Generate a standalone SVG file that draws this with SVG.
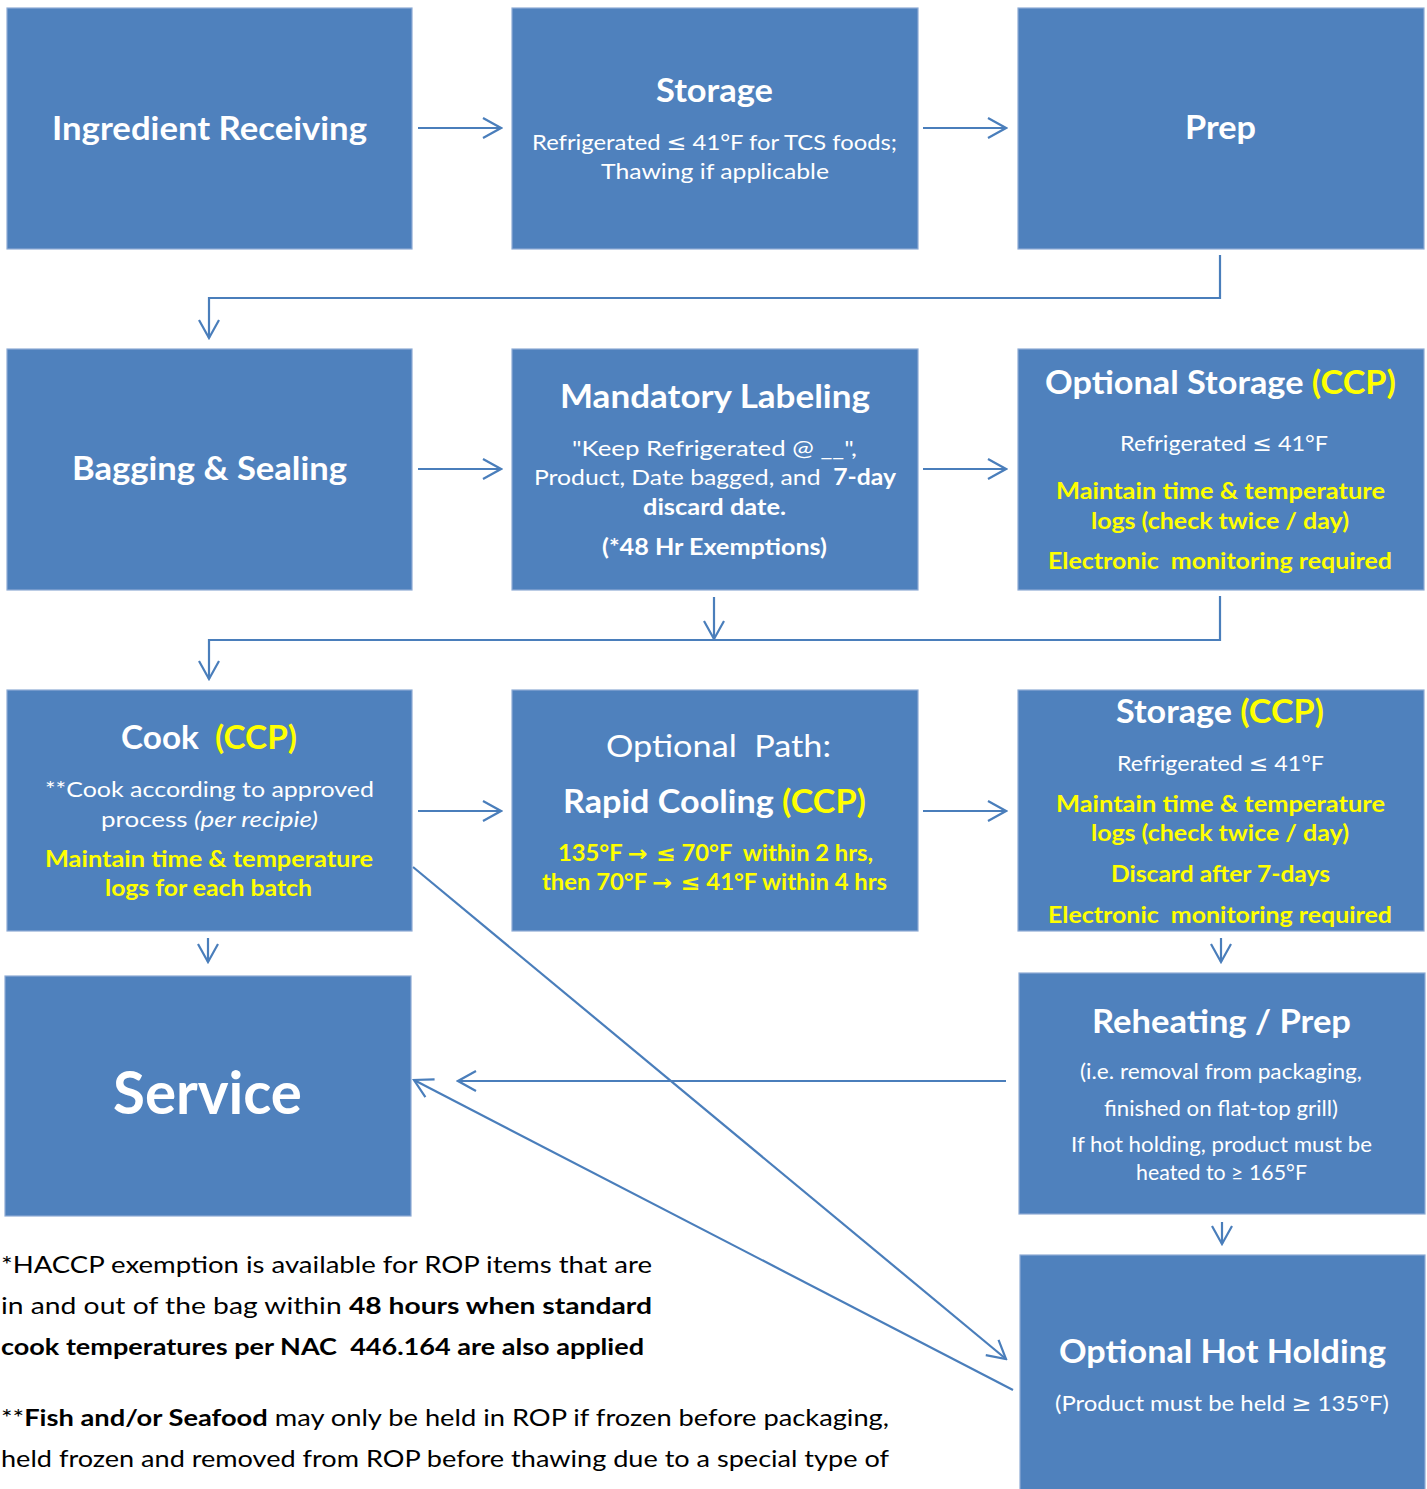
<svg xmlns="http://www.w3.org/2000/svg" width="1427" height="1489" viewBox="0 0 1427 1489">
<defs>
<style>
.box{fill:#4F81BD;stroke:#8eabd4;stroke-width:1.2}
.t{font-family:Lato,"Open Sans","Liberation Sans",sans-serif;text-anchor:middle;fill:#fff;white-space:pre}
.h{font-size:32px;font-weight:bold}
.b{font-size:22px}
.y{font-size:22px;font-weight:bold;fill:#FFFF00}
.yc{fill:#FFFF00}
.s{font-family:"DejaVu Sans",sans-serif}
.c{fill:none;stroke:#4A7EBB;stroke-width:2.2}
.n{font-family:Lato,"Open Sans","Liberation Sans",sans-serif;font-size:23px;fill:#000;white-space:pre}
</style>
<marker id="ah" viewBox="0 0 22 24" refX="20" refY="12" markerWidth="22" markerHeight="24" markerUnits="userSpaceOnUse" orient="auto">
<path d="M2,2 L20,12 L2,22" fill="none" stroke="#4A7EBB" stroke-width="2.2"/>
</marker>
</defs>
<rect width="1427" height="1489" fill="#fff"/>

<g id="connectors">
<line class="c" x1="418" y1="128" x2="501" y2="128" marker-end="url(#ah)"/>
<line class="c" x1="923" y1="128" x2="1006" y2="128" marker-end="url(#ah)"/>
<polyline class="c" points="1220,255 1220,298 209,298 209,338" marker-end="url(#ah)"/>
<line class="c" x1="418" y1="469" x2="501" y2="469" marker-end="url(#ah)"/>
<line class="c" x1="923" y1="469" x2="1006" y2="469" marker-end="url(#ah)"/>
<line class="c" x1="714" y1="597" x2="714" y2="639" marker-end="url(#ah)"/>
<polyline class="c" points="1220,596 1220,640 209,640 209,679" marker-end="url(#ah)"/>
<line class="c" x1="418" y1="811" x2="501" y2="811" marker-end="url(#ah)"/>
<line class="c" x1="923" y1="811" x2="1006" y2="811" marker-end="url(#ah)"/>
<line class="c" x1="208" y1="938" x2="208" y2="962" marker-end="url(#ah)"/>
<line class="c" x1="1221" y1="938" x2="1221" y2="962" marker-end="url(#ah)"/>
<line class="c" x1="1006" y1="1081" x2="458" y2="1081" marker-end="url(#ah)"/>
<line class="c" x1="1222" y1="1222" x2="1222" y2="1244" marker-end="url(#ah)"/>
<line class="c" x1="413" y1="867" x2="1006" y2="1359" marker-end="url(#ah)"/>
<line class="c" x1="1013" y1="1390" x2="414" y2="1080" marker-end="url(#ah)"/>
</g>

<g id="ingredient-receiving">
<rect class="box" x="7" y="8" width="405" height="241"/>
<text class="t h" x="209.5" y="140" textLength="315" lengthAdjust="spacingAndGlyphs">Ingredient Receiving</text>
</g>

<g id="storage">
<rect class="box" x="512" y="8" width="406" height="241"/>
<text class="t h" x="714.5" y="102" textLength="117" lengthAdjust="spacingAndGlyphs">Storage</text>
<text class="t b" x="714.5" y="150" textLength="365" lengthAdjust="spacingAndGlyphs">Refrigerated <tspan class="s">≤</tspan> 41°F for TCS foods;</text>
<text class="t b" x="715" y="179" textLength="228" lengthAdjust="spacingAndGlyphs">Thawing if applicable</text>
</g>

<g id="prep">
<rect class="box" x="1018" y="8" width="406" height="241"/>
<text class="t h" x="1220.5" y="139" textLength="71" lengthAdjust="spacingAndGlyphs">Prep</text>
</g>

<g id="bagging-sealing">
<rect class="box" x="7" y="349" width="405" height="241"/>
<text class="t h" x="209.5" y="480" textLength="275" lengthAdjust="spacingAndGlyphs">Bagging &amp; Sealing</text>
</g>

<g id="mandatory-labeling">
<rect class="box" x="512" y="349" width="406" height="241"/>
<text class="t h" x="715" y="408" textLength="310" lengthAdjust="spacingAndGlyphs">Mandatory Labeling</text>
<text class="t b" x="714.5" y="456" textLength="285" lengthAdjust="spacingAndGlyphs">"Keep Refrigerated @ __",</text>
<text class="t b" x="715" y="485" textLength="362" lengthAdjust="spacingAndGlyphs">Product, Date bagged, and  <tspan font-weight="bold">7-day</tspan></text>
<text class="t b" x="714.5" y="515" font-weight="bold" textLength="143" lengthAdjust="spacingAndGlyphs">discard date.</text>
<text class="t b" x="714.5" y="555" font-weight="bold" textLength="225" lengthAdjust="spacingAndGlyphs">(*48 Hr Exemptions)</text>
</g>

<g id="optional-storage">
<rect class="box" x="1018" y="349" width="406" height="241"/>
<text class="t h" x="1220.5" y="394" textLength="351" lengthAdjust="spacingAndGlyphs">Optional Storage <tspan class="yc">(CCP)</tspan></text>
<text class="t b" x="1224" y="451" textLength="208" lengthAdjust="spacingAndGlyphs">Refrigerated <tspan class="s">≤</tspan> 41°F</text>
<text class="t y" x="1220.5" y="499" textLength="329" lengthAdjust="spacingAndGlyphs">Maintain time &amp; temperature</text>
<text class="t y" x="1220" y="529" textLength="258" lengthAdjust="spacingAndGlyphs">logs (check twice / day)</text>
<text class="t y" x="1220" y="569" textLength="344" lengthAdjust="spacingAndGlyphs">Electronic  monitoring required</text>
</g>

<g id="cook">
<rect class="box" x="7" y="690" width="405" height="241"/>
<text class="t h" x="209" y="749" textLength="176" lengthAdjust="spacingAndGlyphs">Cook  <tspan class="yc">(CCP)</tspan></text>
<text class="t b" x="209.5" y="797" textLength="329" lengthAdjust="spacingAndGlyphs">**Cook according to approved</text>
<text class="t b" x="209.5" y="827" textLength="217" lengthAdjust="spacingAndGlyphs">process <tspan font-style="italic">(per recipie)</tspan></text>
<text class="t y" x="209" y="867" textLength="328" lengthAdjust="spacingAndGlyphs">Maintain time &amp; temperature</text>
<text class="t y" x="208.5" y="896" textLength="207" lengthAdjust="spacingAndGlyphs">logs for each batch</text>
</g>

<g id="rapid-cooling">
<rect class="box" x="512" y="690" width="406" height="241"/>
<text class="t" x="718.5" y="757" font-size="31" textLength="225" lengthAdjust="spacingAndGlyphs">Optional  Path:</text>
<text class="t h" x="714.5" y="813" textLength="303" lengthAdjust="spacingAndGlyphs">Rapid Cooling <tspan class="yc">(CCP)</tspan></text>
<text class="t y" x="715.5" y="861" textLength="315" lengthAdjust="spacingAndGlyphs">135°F <tspan class="s">→ ≤</tspan> 70°F  within 2 hrs,</text>
<text class="t y" x="714.5" y="890" textLength="345" lengthAdjust="spacingAndGlyphs">then 70°F <tspan class="s">→ ≤</tspan> 41°F within 4 hrs</text>
</g>

<g id="storage-ccp">
<rect class="box" x="1018" y="690" width="406" height="241"/>
<text class="t h" x="1220" y="723" textLength="208" lengthAdjust="spacingAndGlyphs">Storage <tspan class="yc">(CCP)</tspan></text>
<text class="t b" x="1220.5" y="771" textLength="207" lengthAdjust="spacingAndGlyphs">Refrigerated <tspan class="s">≤</tspan> 41°F</text>
<text class="t y" x="1220.5" y="812" textLength="329" lengthAdjust="spacingAndGlyphs">Maintain time &amp; temperature</text>
<text class="t y" x="1220" y="841" textLength="258" lengthAdjust="spacingAndGlyphs">logs (check twice / day)</text>
<text class="t y" x="1220.5" y="882" textLength="219" lengthAdjust="spacingAndGlyphs">Discard after 7-days</text>
<text class="t y" x="1220" y="923" textLength="344" lengthAdjust="spacingAndGlyphs">Electronic  monitoring required</text>
</g>

<g id="service">
<rect class="box" x="5" y="976" width="406" height="240"/>
<text class="t" x="207.5" y="1114" font-size="60" font-weight="bold" textLength="189" lengthAdjust="spacingAndGlyphs">Service</text>
</g>

<g id="reheating-prep">
<rect class="box" x="1019" y="973" width="406" height="241"/>
<text class="t h" x="1221.5" y="1033" textLength="259" lengthAdjust="spacingAndGlyphs">Reheating / Prep</text>
<text class="t b" x="1221" y="1079" textLength="282" lengthAdjust="spacingAndGlyphs">(i.e. removal from packaging,</text>
<text class="t b" x="1221" y="1116" textLength="234" lengthAdjust="spacingAndGlyphs">finished on flat-top grill)</text>
<text class="t b" x="1221.5" y="1152" textLength="301" lengthAdjust="spacingAndGlyphs">If hot holding, product must be</text>
<text class="t b" x="1221.5" y="1180" textLength="171" lengthAdjust="spacingAndGlyphs">heated to ≥ 165°F</text>
</g>

<g id="optional-hot-holding">
<rect class="box" x="1020" y="1255" width="405" height="240"/>
<text class="t h" x="1222.5" y="1363" textLength="327" lengthAdjust="spacingAndGlyphs">Optional Hot Holding</text>
<text class="t b" x="1222" y="1411" textLength="334" lengthAdjust="spacingAndGlyphs">(Product must be held <tspan class="s">≥</tspan> 135°F)</text>
</g>

<g id="notes">
<text class="n" x="1" y="1273" textLength="651" lengthAdjust="spacingAndGlyphs">*HACCP exemption is available for ROP items that are</text>
<text class="n" x="1" y="1314" textLength="651" lengthAdjust="spacingAndGlyphs">in and out of the bag within <tspan font-weight="bold">48 hours when standard</tspan></text>
<text class="n" x="1" y="1355" font-weight="bold" textLength="643" lengthAdjust="spacingAndGlyphs">cook temperatures per NAC  446.164 are also applied</text>
<text class="n" x="1" y="1426" textLength="888" lengthAdjust="spacingAndGlyphs">**<tspan font-weight="bold">Fish and/or Seafood</tspan> may only be held in ROP if frozen before packaging,</text>
<text class="n" x="1" y="1467" textLength="888" lengthAdjust="spacingAndGlyphs">held frozen and removed from ROP before thawing due to a special type of</text>
</g>
</svg>
